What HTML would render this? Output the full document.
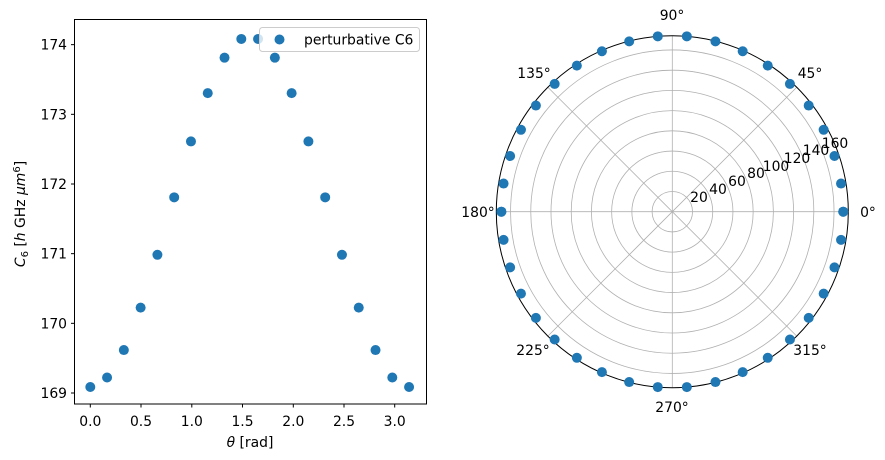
<!DOCTYPE html>
<html><head><meta charset="utf-8"><style>
body{margin:0;background:#fff;}
svg{display:block;font-family:"DejaVu Sans","Liberation Sans",sans-serif;}
</style></head><body>
<svg id="s" width="885" height="460" xmlns="http://www.w3.org/2000/svg">
<rect width="885" height="460" fill="#fff"/>
<g id="left"></g>
<rect x="74.5" y="19.5" width="352" height="384.5" fill="none" stroke="#000" stroke-width="1"/>
<g font-size="13.9" fill="#000">
<text x="90.3" y="426" text-anchor="middle">0.0</text>
<text x="141" y="426" text-anchor="middle">0.5</text>
<text x="191.8" y="426" text-anchor="middle">1.0</text>
<text x="242.5" y="426" text-anchor="middle">1.5</text>
<text x="293.3" y="426" text-anchor="middle">2.0</text>
<text x="344" y="426" text-anchor="middle">2.5</text>
<text x="394.7" y="426" text-anchor="middle">3.0</text>
<text x="250" y="447" text-anchor="middle"><tspan font-style="italic">θ</tspan> [rad]</text>
<text x="67" y="398" text-anchor="end">169</text>
<text x="67" y="328.3" text-anchor="end">170</text>
<text x="67" y="258.7" text-anchor="end">171</text>
<text x="67" y="189" text-anchor="end">172</text>
<text x="67" y="119.3" text-anchor="end">173</text>
<text x="67" y="49.7" text-anchor="end">174</text>
<text transform="translate(25,214) rotate(-90)" text-anchor="middle"><tspan font-style="italic">C</tspan><tspan font-size="10" dy="3">6</tspan><tspan dy="-3"> [</tspan><tspan font-style="italic">h</tspan> GHz <tspan font-style="italic">μm</tspan><tspan font-size="10" dy="-5">6</tspan><tspan dy="5">]</tspan></text>
</g>
<g stroke="#000" stroke-width="1" id="ticks"></g>
<rect x="259.5" y="27.5" width="160" height="24" rx="3" fill="#fff" fill-opacity="0.8" stroke="#ccc"/>
<circle cx="279.5" cy="39.5" r="5" fill="#1f77b4"/>
<text x="304" y="44.5" font-size="13.9">perturbative C6</text>
<g id="polar"></g>
</svg>
<script>
var NS="http://www.w3.org/2000/svg";
function el(p,t,a){var e=document.createElementNS(NS,t);for(var k in a)e.setAttribute(k,a[k]);p.appendChild(e);return e;}
var L=document.getElementById('left'),T=document.getElementById('ticks'),P=document.getElementById('polar');
function f(t){return 169.086+5.03*Math.pow(Math.sin(t),2);}
var xs=[90.3,141,191.8,242.5,293.3,344,394.7];
xs.forEach(function(x){el(T,'line',{x1:x,x2:x,y1:404,y2:407.5});});
for(var k=0;k<6;k++){var y=393-k*69.67;el(T,'line',{x1:71,x2:74.5,y1:y,y2:y});}
var th=[];for(var i=0;i<20;i++)th.push(Math.PI*i/19);
var cx=672.3,cy=211.7,R=176,s=R/174.1;
for(var r=20;r<=160;r+=20)el(P,'circle',{cx:cx,cy:cy,r:r*s,fill:'none',stroke:'#b0b0b0','stroke-width':0.8});
for(var a=0;a<8;a++){var an=a*Math.PI/4;el(P,'line',{x1:cx,y1:cy,x2:cx+R*Math.cos(an),y2:cy-R*Math.sin(an),stroke:'#b0b0b0','stroke-width':0.8});}
el(P,'circle',{cx:cx,cy:cy,r:R,fill:'none',stroke:'#000','stroke-width':1});
th.forEach(function(t){
 el(L,'circle',{cx:90.3+t*101.47,cy:393-(f(t)-169)*69.67,r:5,fill:'#1f77b4'});
 [t,t+Math.PI].forEach(function(a){var rr=f(t)*s;el(P,'circle',{cx:cx+rr*Math.cos(a),cy:cy-rr*Math.sin(a),r:5,fill:'#1f77b4'});});
});
var rl=[[20,699,197],[40,718,189],[60,737,181],[80,756,173],[100,776,166],[120,797,158],[140,816,150],[160,835,143]];
rl.forEach(function(q){var t=el(P,'text',{x:q[1],y:q[2]+5,'font-size':13.9,'text-anchor':'middle'});t.textContent=q[0];});
var al=[['0°',868,212],['45°',810,73],['90°',672,15],['135°',534,73],['180°',478,212],['225°',533,350],['270°',672,407],['315°',810,350]];
al.forEach(function(q){var t=el(P,'text',{x:q[1],y:q[2]+5,'font-size':13.9,'text-anchor':'middle'});t.textContent=q[0];});
</script>
</body></html>
